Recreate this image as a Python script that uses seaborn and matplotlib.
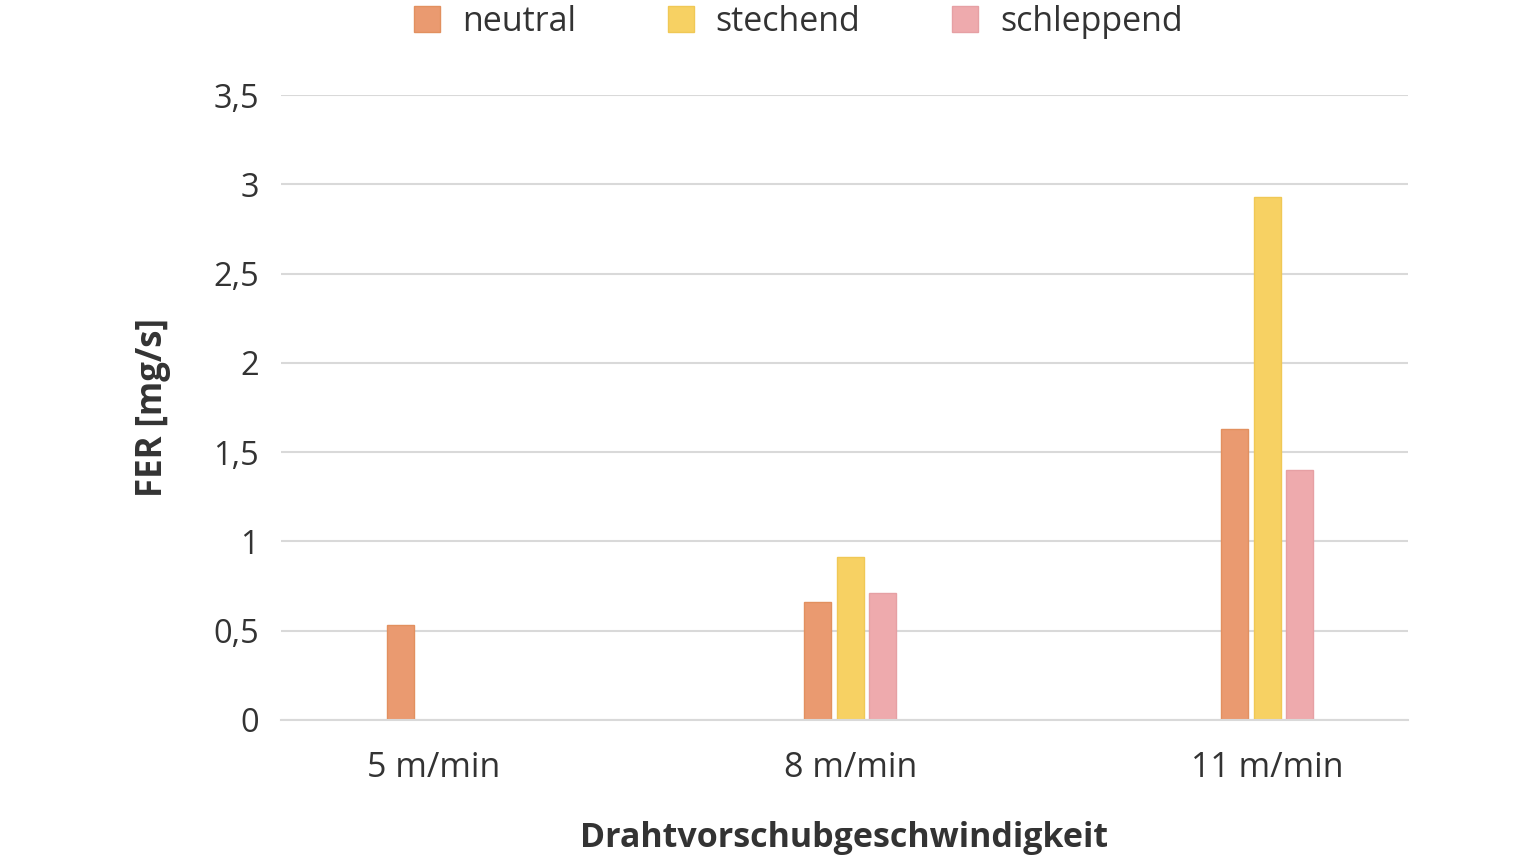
import pandas as pd
import matplotlib
matplotlib.use('Agg')
import matplotlib.pyplot as plt
import seaborn as sns
from matplotlib.patches import Patch

# Daten aus dem Diagramm
speeds = ['5 m/min', '8 m/min', '11 m/min']
neutral = [0.53, 0.66, 1.63]
stechend = [None, 0.91, 2.93]
schleppend = [None, 0.71, 1.40]
hue_order = ['neutral', 'stechend', 'schleppend']
colors = ['#EA9A70', '#F7D163', '#EEAAAD']
edges = ['#E2905F', '#F0C855', '#E6A0A4']
y_ticks = [0, 0.5, 1, 1.5, 2, 2.5, 3, 3.5]

df = pd.DataFrame({'speed': speeds, 'neutral': neutral,
                   'stechend': stechend, 'schleppend': schleppend})
df = df.melt(id_vars='speed', var_name='mode', value_name='fer')

sns.set_theme(style='white')
plt.rcParams['font.family'] = ['Open Sans', 'DejaVu Sans']
text_col = '#333333'

fig = plt.figure(figsize=(15.4, 8.66), dpi=100)
ax = fig.add_axes([0.1825, 0.1686, 0.7318, 0.7217])

sns.barplot(data=df, x='speed', y='fer', hue='mode', hue_order=hue_order,
            order=speeds, palette=colors, saturation=1, width=0.234, gap=0.17,
            ax=ax, legend=False)

# Kanten etwas dunkler
for cont, ec in zip(ax.containers, edges):
    for bar in cont:
        bar.set_edgecolor(ec)
        bar.set_linewidth(1)

ax.set_ylim(0, 3.5)
ax.set_xlim(-0.365, 2.338)
ax.set_yticks(y_ticks)
ax.set_yticklabels([f'{v:g}'.replace('.', ',') for v in y_ticks],
                   fontsize=23.5, color=text_col)
ax.set_xticks(range(len(speeds)))
ax.set_xticklabels(speeds, fontsize=24.5, color=text_col)
ax.tick_params(axis='y', length=0, pad=16)
ax.tick_params(axis='x', length=0, pad=22)

ax.yaxis.grid(True, color='#D9D9D9', linewidth=1.5)
ax.set_axisbelow(True)
for s in ['top', 'right', 'left']:
    ax.spines[s].set_visible(False)
ax.spines['bottom'].set_color('#D9D9D9')
ax.spines['bottom'].set_linewidth(1.5)

ax.set_ylabel('FER [mg/s]', fontsize=25, fontweight='bold', color=text_col,
              labelpad=30)
ax.set_xlabel('Drahtvorschubgeschwindigkeit', fontsize=24.5, fontweight='bold',
              color=text_col, labelpad=26)

# Legende oben
handles = [Patch(facecolor=c, edgecolor=e) for c, e in zip(colors, edges)]
fig.legend(handles, hue_order, loc='upper center', bbox_to_anchor=(0.5185, 1.03),
           ncol=3, frameon=False, fontsize=24.5, handlelength=0.75,
           handleheight=0.8, columnspacing=2.7, handletextpad=0.65,
           labelcolor=text_col)

fig.savefig('out.png', dpi=100, facecolor='white')
